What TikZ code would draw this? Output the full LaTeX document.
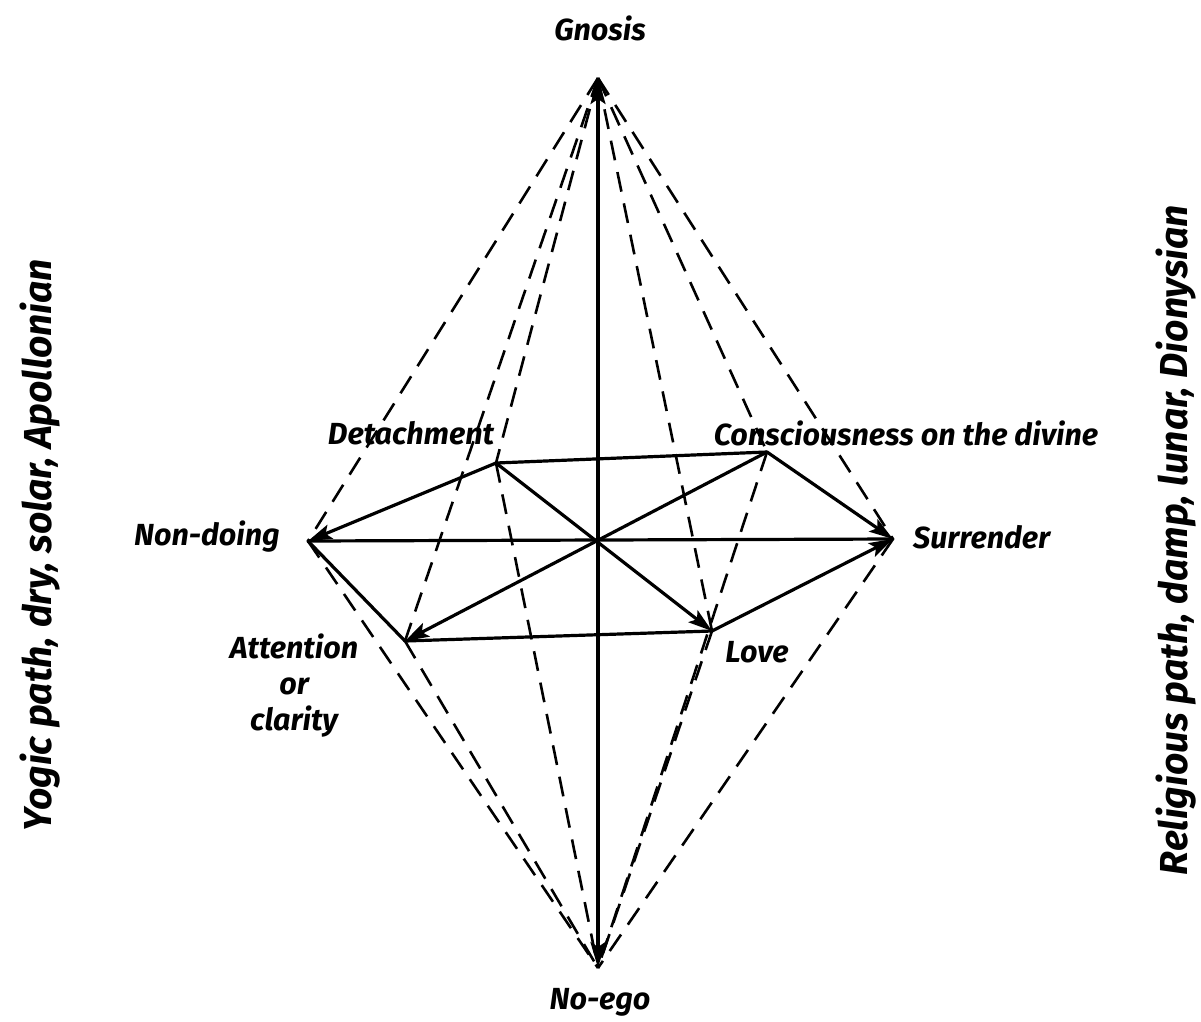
\documentclass[tikz,border=0pt]{standalone}
\usepackage{fontspec}
\setmainfont{Fira Sans}
\usetikzlibrary{arrows.meta}
\begin{document}
\begin{tikzpicture}[x=1pt,y=-1pt,
  solidln/.style={line width=3.2pt,line cap=round},
  dashln/.style={line width=2.6pt,dash pattern=on 20pt off 12pt},
  arr/.style={-{Stealth[length=24pt,width=15pt,inset=5pt]}},
  lbl/.style={font=\fontsize{30.5}{36}\selectfont\bfseries\itshape,inner sep=0pt},
  side/.style={font=\fontsize{39}{44}\selectfont\bfseries\itshape,inner sep=0pt,rotate=90}]
\useasboundingbox (0,0) rectangle (1201,1021);
% points
\coordinate (G) at (598,78);
\coordinate (N) at (598,968);
\coordinate (C) at (597,542);
\coordinate (ND) at (308,541);
\coordinate (S) at (893,539);
\coordinate (D) at (496,463);
\coordinate (K) at (767,452);
\coordinate (A) at (405,641);
\coordinate (L) at (712,631);
% dashed lines from Gnosis and to No-ego
\foreach \p in {ND,D,A,K,L,S}{
  \draw[dashln] (G) -- (\p);
  \draw[dashln] (\p) -- (N);
}
% solid lines
\draw[solidln,{Stealth[length=26pt,width=15pt,inset=5pt]}-{Stealth[length=26pt,width=15pt,inset=5pt]}] (G) -- (N);
\draw[solidln] (ND) -- (S);
\draw[solidln] (D) -- (K);
\draw[solidln] (A) -- (L);
\draw[solidln] (ND) -- (A);
\draw[solidln,arr] (D) -- (ND);
\draw[solidln,arr] (D) -- (L);
\draw[solidln,arr] (K) -- (A);
\draw[solidln,arr] (K) -- (S);
\draw[solidln,arr] (L) -- (S);
% labels
\node[lbl] (tG) at (600,28) {Gnosis};
\node[lbl] (tN) at (600,1002) {No-ego};
\node[lbl,anchor=east] (tND) at (280,537) {Non-doing};
\node[lbl,anchor=west] (tS) at (913,537) {Surrender};
\node[lbl] (tD) at (411,433) {Detachment};
\node[lbl] (tK) at (906,433) {Consciousness on the divine};
\node[lbl,align=center] (tA) at (294,686) {Attention\\or\\clarity};
\node[lbl] (tL) at (757,652) {Love};
\node[side] (tY) at (40,545) {Yogic path, dry, solar, Apollonian};
\node[side] (tR) at (1176,540) {Religious path, damp, lunar, Dionysian};
\end{tikzpicture}
\end{document}
